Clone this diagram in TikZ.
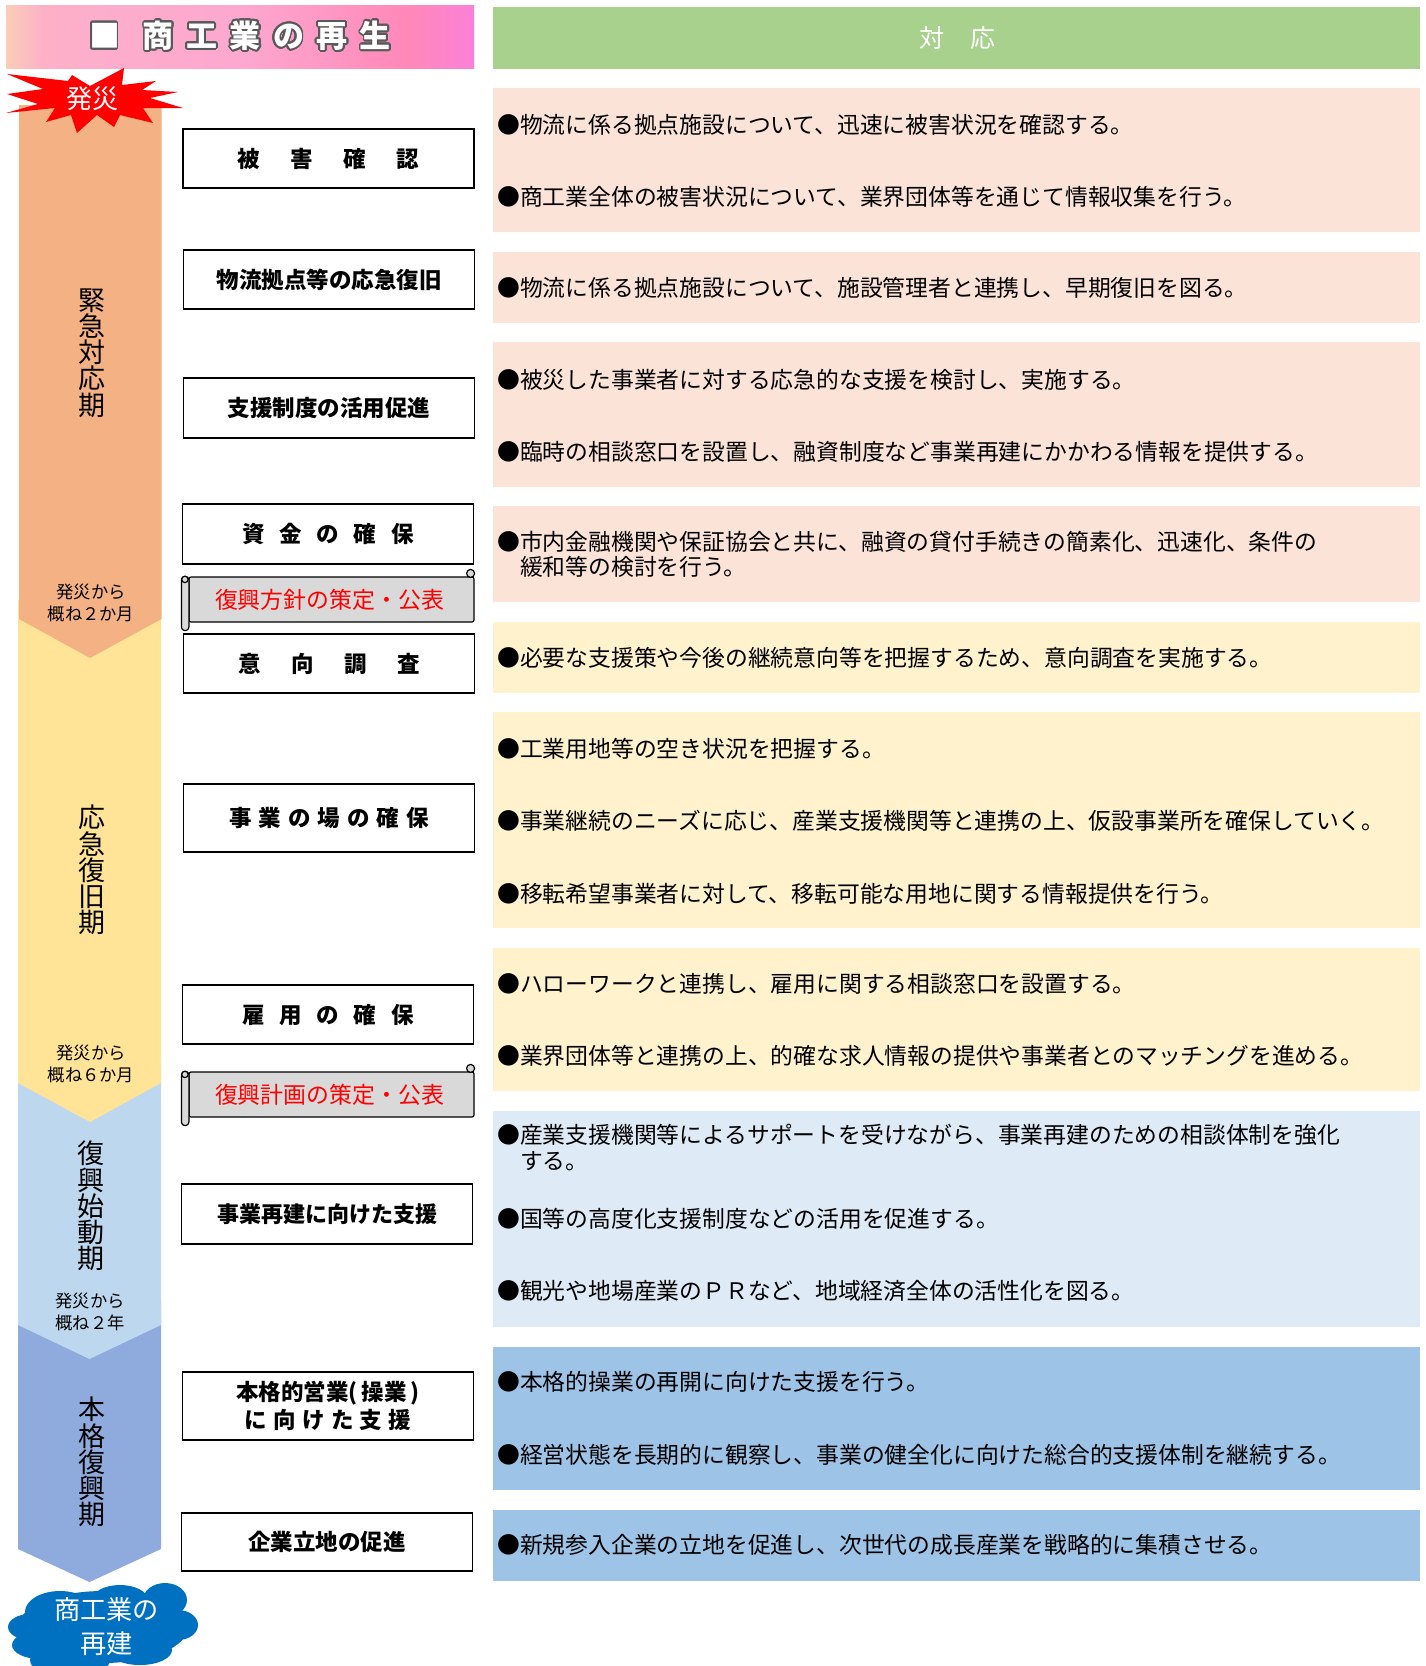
\documentclass[tikz,border=0pt]{standalone}
\usepackage{xcolor}
\usepackage{fontspec}
\usepackage{contour}
\usetikzlibrary{calc}
\setmainfont{Noto Sans CJK JP}
\newfontfamily\heavyfont{Noto Sans CJK JP Black}
\contourlength{1.8pt}
\contournumber{24}
\definecolor{headgreen}{RGB}{169,209,142}
\definecolor{stageone}{RGB}{244,177,131}
\definecolor{stagetwo}{RGB}{255,227,150}
\definecolor{stagethree}{RGB}{189,215,238}
\definecolor{stagefour}{RGB}{143,170,220}
\definecolor{bandone}{RGB}{252,227,215}
\definecolor{bandtwo}{RGB}{255,242,204}
\definecolor{bandthree}{RGB}{222,234,246}
\definecolor{bandfour}{RGB}{157,195,230}
\definecolor{cloudblue}{RGB}{0,112,192}
\definecolor{scrollgrey}{RGB}{217,217,217}
\definecolor{pinkone}{RGB}{251,205,184}
\definecolor{pinktwo}{RGB}{253,176,200}
\definecolor{pinkthree}{RGB}{253,168,208}
\definecolor{pinkfour}{RGB}{255,136,184}
\definecolor{pinkfive}{RGB}{250,128,216}
\pgfdeclarehorizontalshading{pinkbar}{100bp}{
    color(0bp)=(pinkone); color(25bp)=(pinkone); color(29bp)=(pinktwo); color(50bp)=(pinkthree);
    color(68bp)=(pinkfour); color(75bp)=(pinkfive); color(100bp)=(pinkfive)}
\newcommand{\spaced}[2]{{\addfontfeature{LetterSpace=#1}#2}}

\begin{document}
\begin{tikzpicture}[
    x=1pt, y=-1pt,
    stagebox/.style={rectangle, draw, line width=1.2pt, minimum width=291pt, inner sep=0pt, align=center,
        font=\heavyfont\fontsize{22.5}{28}\selectfont},
    band/.style={rectangle, minimum width=926.5pt, inner sep=0pt},
    actline/.style={anchor=west, inner sep=0pt, align=left, font=\fontsize{22.8}{25.5}\selectfont},
    stagename/.style={inner sep=0pt, align=center, font=\fontsize{27}{26.2}\selectfont},
    timenote/.style={inner sep=0pt, align=center, font=\fontsize{17.3}{22.5}\selectfont},
    scrollbody/.style={rectangle, draw, line width=1.2pt, fill=scrollgrey, text=red, rounded corners=2pt,
        minimum width=285pt, minimum height=45pt, inner sep=0pt, font=\fontsize{22.9}{26}\selectfont},
    scrollpart/.style={draw, line width=1.2pt, fill=scrollgrey}
]
    \useasboundingbox (0,0) rectangle (1426,1666);

    % title bars
    \node[rectangle, shading=pinkbar, minimum width=468pt, minimum height=63pt, inner sep=0pt] (title) at (240,36.5) {};
    \node[text=white, inner sep=0pt, font=\heavyfont\fontsize{31}{31}\selectfont] (titletext) at (240,36.5)
        {\contour{black!65}{■\hspace{23pt}\spaced{40}{商工業の再生}}};
    \node[rectangle, fill=headgreen, minimum width=926.5pt, minimum height=62pt, inner sep=0pt] (answer) at (956.25,38) {};
    \node[text=white, inner sep=0pt, font=\fontsize{25}{25}\selectfont] (answertext) at (957,38) {\spaced{104}{対応}};

    % stage arrows, last one first
    \fill[stagefour] (18,1300) -- (161,1300) -- (161,1549) -- (89.5,1582) -- (18,1549) -- cycle;
    \fill[stagethree] (18,1060) -- (161,1060) -- (161,1325) -- (89.5,1359) -- (18,1325) -- cycle;
    \fill[stagetwo] (18,600) -- (161,600) -- (161,1083) -- (90,1122) -- (18,1083) -- cycle;
    \fill[stageone] (19,105) -- (161.5,105) -- (161.5,619) -- (90,658) -- (19,619) -- cycle;

    % burst
    \fill[red] (7,74) -- (68,81) -- (72,75) -- (90,86) -- (124,68) -- (122,85) -- (156,81) -- (142,90)
        -- (178,92) -- (150,98) -- (183,108) -- (143,108) -- (153,123) -- (120,115) -- (114,127)
        -- (97,115) -- (77,133) -- (71,115) -- (46,122) -- (55,108) -- (6,113) -- (38,104)
        -- (7,94) -- (43,89) -- cycle;
    \node[text=white, inner sep=0pt, font=\fontsize{26}{26}\selectfont] (burst) at (92,99) {発災};

    \node[stagename] (phase1) at (91.5,353) {緊\\急\\対\\応\\期};
    \node[stagename] (phase2) at (91.5,870) {応\\急\\復\\旧\\期};
    \node[stagename] (phase3) at (90.5,1206) {復\\興\\始\\動\\期};
    \node[stagename] (phase4) at (92,1462) {本\\格\\復\\興\\期};
    \node[timenote] (note1) at (91,603) {発災から\\概ね２か月};
    \node[timenote] (note2) at (91,1064) {発災から\\概ね６か月};
    \node[timenote] (note3) at (90,1312) {発災から\\概ね２年};

    % cloud
    \fill[cloudblue] (103,1627) ellipse (85pt and 36pt);
    \foreach \cx/\cy/\rx/\ry in {60/1612/35/21, 120/1600/28/15, 165/1600/22/17, 178/1625/20/15,
        30/1627/22/13, 40/1645/28/14, 140/1650/32/15, 70/1660/40/18} {
        \fill[cloudblue] (\cx,\cy) ellipse (\rx pt and \ry pt);
    }
    \node[text=white, inner sep=0pt, align=center, font=\fontsize{26.2}{34}\selectfont] (goal) at (106.5,1627) {商工業の\\再建};

    % left column
    \node[stagebox, minimum height=59pt] (check) at (328.5,158.5) {\spaced{135}{被害確認}};
    \node[stagebox, minimum height=59pt] (logi) at (329,279.5) {物流拠点等の応急復旧};
    \node[stagebox, minimum height=60pt] (aid) at (329,408) {支援制度の活用促進};
    \node[stagebox, minimum height=60pt] (fund) at (328,534) {\spaced{65}{資金の確保}};
    \node[scrollbody] (plan1) at (331.5,599.5) {\hspace*{-4pt}復興方針の策定・公表};
    \node[stagebox, minimum height=59pt] (survey) at (329,663.5) {\spaced{135}{意向調査}};
    \node[stagebox, minimum height=68pt] (site) at (329,818) {\spaced{31}{事業の場の確保}};
    \node[stagebox, minimum height=59pt] (jobs) at (328,1014.5) {\spaced{65}{雇用の確保}};
    \node[scrollbody] (plan2) at (331.5,1094.5) {\hspace*{-4pt}復興計画の策定・公表};
    \node[stagebox, minimum height=60pt, font=\heavyfont\fontsize{22}{28}\selectfont] (rebuild) at (327,1214) {事業再建に向けた支援};
    \node[stagebox, minimum height=68pt] (full) at (328,1406) {本格的営業(\hspace{4pt}操業\hspace{4pt})\\\spaced{28}{に向けた支援}};
    \node[stagebox, minimum height=58pt] (site2) at (327,1542) {企業立地の促進};

    % scroll ends
    \foreach \sc in {plan1,plan2} {
        \draw[scrollpart, rounded corners=3.5pt] ($(\sc.north west)+(-7,0)$) rectangle ($(\sc.south west)+(0.5,8)$);
        \draw[scrollpart] ($(\sc.north west)+(-3.5,3)$) circle (3.2pt);
        \draw[scrollpart] ($(\sc.north east)+(-4,-3)$) circle (4pt);
    }

    % right column
    \node[band, fill=bandone, minimum height=144pt] (row1) at (956.25,160) {};
    \node[band, fill=bandone, minimum height=71pt] (row2) at (956.25,287.5) {};
    \node[band, fill=bandone, minimum height=145pt] (row3) at (956.25,414.5) {};
    \node[band, fill=bandone, minimum height=96pt] (row4) at (956.25,554) {};
    \node[band, fill=bandtwo, minimum height=71pt] (row5) at (956.25,657.5) {};
    \node[band, fill=bandtwo, minimum height=216pt] (row6) at (956.25,820) {};
    \node[band, fill=bandtwo, minimum height=143pt] (row7) at (956.25,1019.5) {};
    \node[band, fill=bandthree, minimum height=216pt] (row8) at (956.25,1219) {};
    \node[band, fill=bandfour, minimum height=143pt] (row9) at (956.25,1418.5) {};
    \node[band, fill=bandfour, minimum height=71pt] (row10) at (956.25,1545.5) {};

    \node[actline] (a1) at (497,124.5) {●物流に係る拠点施設について、迅速に被害状況を確認する。};
    \node[actline] (a2) at (497,197) {●商工業全体の被害状況について、業界団体等を通じて情報収集を行う。};
    \node[actline] (a3) at (497,288) {●物流に係る拠点施設について、施設管理者と連携し、早期復旧を図る。};
    \node[actline] (a4) at (497,379.5) {●被災した事業者に対する応急的な支援を検討し、実施する。};
    \node[actline] (a5) at (497,451.5) {●臨時の相談窓口を設置し、融資制度など事業再建にかかわる情報を提供する。};
    \node[actline] (a6) at (497,554.5) {●市内金融機関や保証協会と共に、融資の貸付手続きの簡素化、迅速化、条件の\\\hspace{22.8pt}緩和等の検討を行う。};
    \node[actline] (a7) at (497,658) {●必要な支援策や今後の継続意向等を把握するため、意向調査を実施する。};
    \node[actline] (a8) at (497,749) {●工業用地等の空き状況を把握する。};
    \node[actline] (a9) at (497,821) {●事業継続のニーズに応じ、産業支援機関等と連携の上、仮設事業所を確保していく。};
    \node[actline] (a10) at (497,893.5) {●移転希望事業者に対して、移転可能な用地に関する情報提供を行う。};
    \node[actline] (a11) at (497,984) {●ハローワークと連携し、雇用に関する相談窓口を設置する。};
    \node[actline] (a12) at (497,1055.5) {●業界団体等と連携の上、的確な求人情報の提供や事業者とのマッチングを進める。};
    \node[actline] (a13) at (497,1147.5) {●産業支援機関等によるサポートを受けながら、事業再建のための相談体制を強化\\\hspace{22.8pt}する。};
    \node[actline] (a14) at (497,1219) {●国等の高度化支援制度などの活用を促進する。};
    \node[actline] (a15) at (497,1291) {●観光や地場産業のＰＲなど、地域経済全体の活性化を図る。};
    \node[actline] (a16) at (497,1382) {●本格的操業の再開に向けた支援を行う。};
    \node[actline] (a17) at (497,1455) {●経営状態を長期的に観察し、事業の健全化に向けた総合的支援体制を継続する。};
    \node[actline] (a18) at (497,1545) {●新規参入企業の立地を促進し、次世代の成長産業を戦略的に集積させる。};
\end{tikzpicture}
\end{document}
